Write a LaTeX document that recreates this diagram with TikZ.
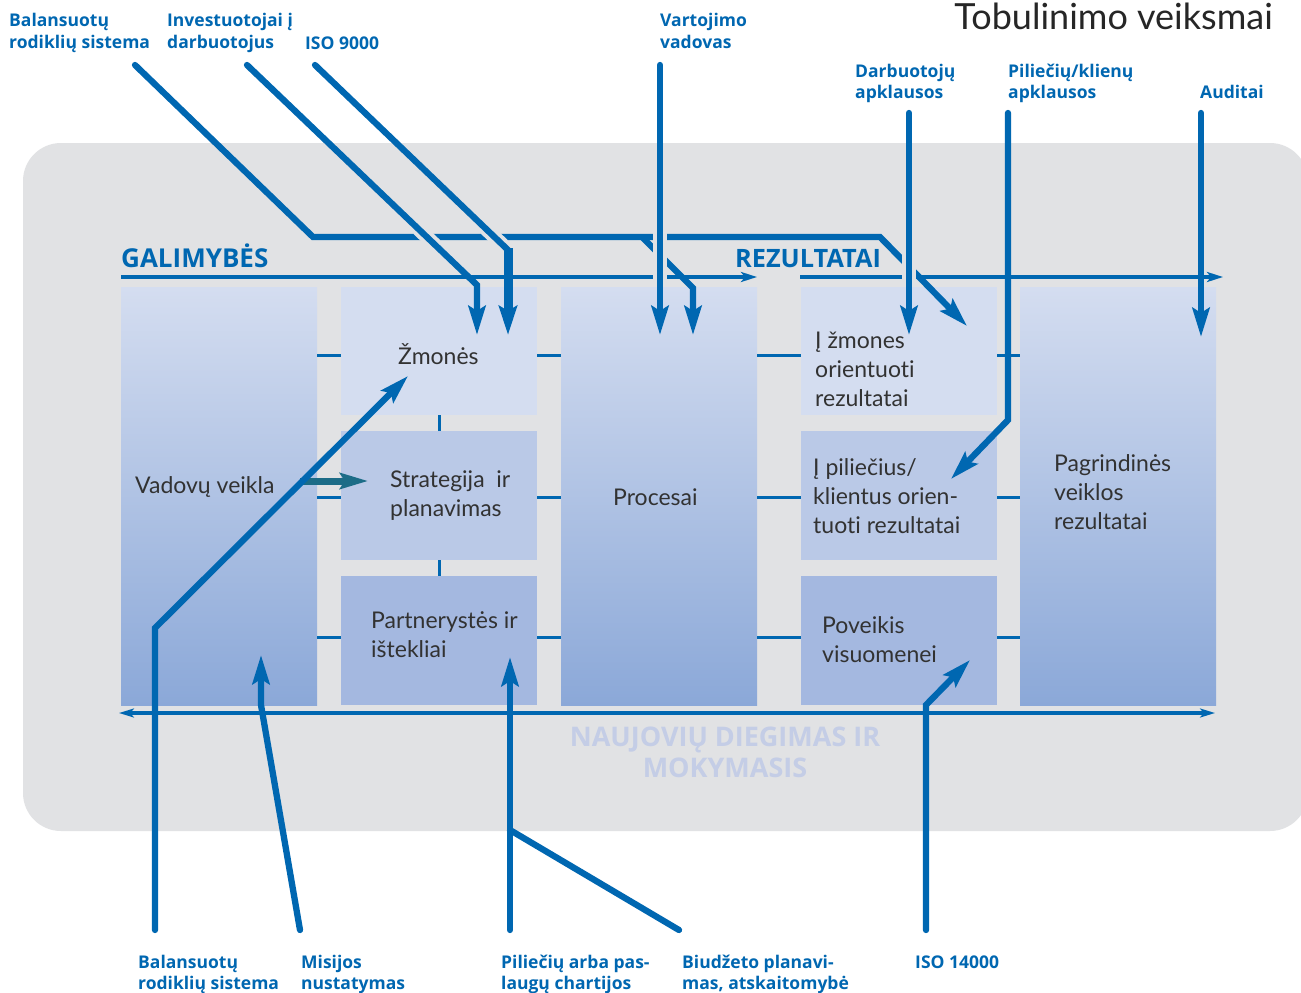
\documentclass[tikz,border=0pt]{standalone}
\usepackage{fontspec}
\setmainfont{Lato}[Ligatures=NoCommon]
\newfontfamily\osans{Open Sans}
\usetikzlibrary{arrows.meta}
\definecolor{eblue}{RGB}{0,103,177}
\definecolor{bggray}{RGB}{225,226,228}
\definecolor{boxA}{RGB}{212,221,240}
\definecolor{boxB}{RGB}{186,201,231}
\definecolor{boxC}{RGB}{164,184,224}
\definecolor{boxD}{RGB}{139,168,216}
\definecolor{tealc}{RGB}{28,108,135}
\definecolor{fadeblue}{RGB}{196,205,230}
\definecolor{txt}{RGB}{50,50,50}
\newcommand\mlines[1]{\begin{tabular}[t]{@{}l@{}}#1\end{tabular}}
\newcommand\clines[1]{\begin{tabular}[t]{@{}c@{}}#1\end{tabular}}
\begin{document}
\begin{tikzpicture}[x=1pt,y=-1pt,
  tool/.style={font=\osans\bfseries\fontsize{17.5}{21.7}\selectfont, text=eblue, inner sep=0pt, anchor=base west},
  boxtext/.style={font=\fontsize{23}{29}\selectfont, text=txt, inner sep=0pt, anchor=base west},
  cell/.style={draw=none, inner sep=0pt, minimum width=196pt, anchor=north west},
  conn/.style={draw=eblue, line width=3pt},
  thinarr/.style={draw=eblue, line width=3.3pt, -{Stealth[length=16pt,width=10pt,inset=4pt]}},
  tarr/.style={draw=eblue, line width=6.3pt, line cap=round, line join=miter, -{Stealth[length=29pt,width=17pt,inset=5pt]}},
  tline/.style={draw=eblue, line width=6.3pt, line cap=round, line join=miter},
  cover/.style={draw=bggray, line width=14pt, line cap=butt},
  head/.style={font=\osans\bfseries\fontsize{26}{30}\selectfont, text=eblue, inner sep=0pt, anchor=base west}
]
\useasboundingbox (0,0) rectangle (1301,993);
\fill[white] (0,0) rectangle (1301,993);
\begin{scope}
\clip (0,0) rectangle (1301,993);
\fill[bggray, rounded corners=38pt] (23,143) rectangle (1308,831);
\end{scope}

% boxes
\node[cell, minimum height=418pt, top color=boxA, bottom color=boxD] (vad) at (121,287) {};
\node[cell, minimum height=128pt, fill=boxA] (zm) at (341,287) {};
\node[cell, minimum height=129pt, fill=boxB] (str) at (341,431) {};
\node[cell, minimum height=129pt, fill=boxC] (part) at (341,576) {};
\node[cell, minimum height=418pt, top color=boxA, bottom color=boxD] (proc) at (561,287) {};
\node[cell, minimum height=128pt, fill=boxA] (rz) at (801,287) {};
\node[cell, minimum height=129pt, fill=boxB] (rp) at (801,431) {};
\node[cell, minimum height=129pt, fill=boxC] (rv) at (801,576) {};
\node[cell, minimum height=418pt, top color=boxA, bottom color=boxD] (pag) at (1020,287) {};

% connectors between boxes
\foreach \yy in {355,497,637}{
  \draw[conn] (vad.east |- 0,\yy) -- (zm.west |- 0,\yy);
  \draw[conn] (zm.east |- 0,\yy) -- (proc.west |- 0,\yy);
  \draw[conn] (proc.east |- 0,\yy) -- (rz.west |- 0,\yy);
  \draw[conn] (rz.east |- 0,\yy) -- (pag.west |- 0,\yy);
}
\draw[conn] (zm.south) -- (str.north);
\draw[conn] (str.south) -- (part.north);

% axis lines
\coordinate (g0) at (121,277); \coordinate (g1) at (757,277);
\coordinate (r0) at (800,277); \coordinate (r1) at (1223,277);
\draw[thinarr] (g0) -- (g1);
\draw[thinarr] (r0) -- (r1);
\coordinate (n0) at (119,713); \coordinate (n1) at (1215,713);
\draw[draw=eblue, line width=3.3pt, {Stealth[length=15pt,width=9pt,inset=4pt]}-{Stealth[length=15pt,width=9pt,inset=4pt]}] (n0) -- (n1);

\node[head] (gal) at (121,267) {GALIMYBĖS};
\node[head, font=\osans\bfseries\fontsize{25.3}{30}\selectfont] (rez) at (735,267) {REZULTATAI};
\node[font=\osans\bfseries\fontsize{27}{31}\selectfont, text=fadeblue, inner sep=0pt, anchor=base] (nau) at (725,746) {\clines{NAUJOVIŲ DIEGIMAS IR\\MOKYMASIS}};

% box texts
\node[boxtext] (tvad) at (135,493) {Vadovų veikla};
\node[boxtext] (tzm) at (398,364) {Žmonės};
\node[boxtext] (tstr) at (390,487) {\mlines{Strategija~ ir\\planavimas}};
\node[boxtext] (tpart) at (371,628) {\mlines{Partnerystės ir\\ištekliai}};
\node[boxtext] (tproc) at (613,505) {Procesai};
\node[boxtext] (trz) at (815,348) {\mlines{Į žmones\\orientuoti\\rezultatai}};
\node[boxtext] (trp) at (813,475) {\mlines{Į piliečius/\\klientus orien-\\tuoti rezultatai}};
\node[boxtext] (trv) at (822,633) {\mlines{Poveikis\\visuomenei}};
\node[boxtext] (tpag) at (1054,471) {\mlines{Pagrindinės\\veiklos\\rezultatai}};

% coordinates of arrows
\coordinate (b1s) at (135,65); \coordinate (b1a) at (313,237);
\coordinate (b1b) at (880,237); \coordinate (b1t) at (967,326);
\coordinate (br0) at (642,237); \coordinate (br1) at (693,288); \coordinate (brt) at (693,335);
\coordinate (i2s) at (247,65); \coordinate (i2b) at (477,285); \coordinate (i2t) at (477,335);
\coordinate (isos) at (315,65); \coordinate (isob) at (508,250); \coordinate (isoc) at (508,248); \coordinate (isot) at (508,335);
\coordinate (vs) at (660,65); \coordinate (vt) at (660,335);
\coordinate (ds) at (909,113); \coordinate (dt) at (909,335);
\coordinate (ps) at (1008,113); \coordinate (pb) at (1008,420); \coordinate (pt) at (951,479);
\coordinate (aus) at (1201,113); \coordinate (aut) at (1201,337);
\coordinate (bbs) at (155,930); \coordinate (bbb) at (155,628); \coordinate (bbt) at (408,376);
\coordinate (ms) at (300,930); \coordinate (mb) at (261,705); \coordinate (mt) at (261,655);
\coordinate (cs) at (510,930); \coordinate (ct) at (510,657); \coordinate (cj) at (510,830);
\coordinate (bds) at (679,930);
\coordinate (i14s) at (926,930); \coordinate (i14b) at (926,705); \coordinate (i14t) at (970,660);
\coordinate (tls) at (300,481); \coordinate (tlt) at (368,481);

% main top path (balanced scorecard)
\draw[tarr] (b1s) -- (b1a) -- (b1b) -- (b1t);
\draw[tarr, line cap=butt] (br0) -- (br1) -- (brt);

% Investuotojai with bridge
\draw[cover] (418.1,228.7) -- (435.5,245.3);
\draw[tarr] (i2s) -- (i2b) -- (i2t);
% ISO 9000 with bridge
\draw[cover] (485.7,228.7) -- (503.1,245.3);
\draw[tline, line cap=round] (isos) -- (isob);
\draw[draw=eblue, line width=9pt, -{Stealth[length=29pt,width=18pt,inset=5pt]}] (isoc) -- (isot);
% Vartojimo with bridge
\draw[cover] (660,224) -- (660,284);
\draw[tarr] (vs) -- (vt);
% Darbuotoju with bridge
\draw[cover] (909,248) -- (909,284);
\draw[tarr] (ds) -- (dt);
% Pilieciu/klienu
\draw[tarr] (ps) -- (pb) -- (pt);
% Auditai
\draw[tarr] (aus) -- (aut);

% teal arrow
\draw[draw=tealc, line width=7pt, -{Stealth[length=28pt,width=16pt,inset=5pt]}] (tls) -- (tlt);

% bottom arrows
\draw[tarr] (bbs) -- (bbb) -- (bbt);
\draw[tarr] (ms) -- (mb) -- (mt);
\draw[tarr] (cs) -- (ct);
\draw[tline] (bds) -- (cj);
\draw[tarr] (i14s) -- (i14b) -- (i14t);

% top labels
\node[tool] (l1) at (9,27) {\mlines{Balansuotų\\rodiklių sistema}};
\node[tool] (l2) at (167,27) {\mlines{Investuotojai į\\darbuotojus}};
\node[tool] (l3) at (305,49) {ISO 9000};
\node[tool] (l4) at (660,27) {\mlines{Vartojimo\\vadovas}};
\node[tool] (l5) at (855,77) {\mlines{Darbuotojų\\apklausos}};
\node[tool] (l6) at (1008,77) {\mlines{Piliečių/klienų\\apklausos}};
\node[tool] (l7) at (1200,98) {Auditai};
\node[font=\fontsize{36}{40}\selectfont, text=black!85, inner sep=0pt, anchor=base east] (title) at (1273,29) {Tobulinimo veiksmai};

% bottom labels
\node[tool] (m1) at (138,968) {\mlines{Balansuotų\\rodiklių sistema}};
\node[tool] (m2) at (301,968) {\mlines{Misijos\\nustatymas}};
\node[tool] (m3) at (501,968) {\mlines{Piliečių arba pas-\\laugų chartijos}};
\node[tool] (m4) at (682,968) {\mlines{Biudžeto planavi-\\mas, atskaitomybė}};
\node[tool] (m5) at (915,968) {ISO 14000};
\end{tikzpicture}
\end{document}
